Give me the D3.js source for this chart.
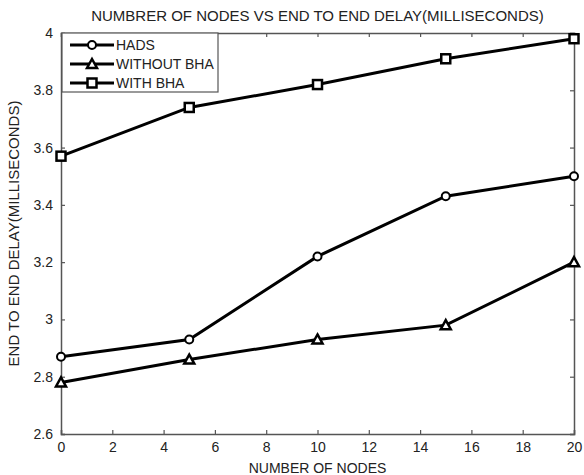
<!DOCTYPE html>
<html>
<head>
<meta charset="utf-8">
<script src="https://cdn.jsdelivr.net/npm/d3@7"></script>
<style>
body{margin:0;background:#fff;}
text{font-family:"Liberation Sans",Arial,sans-serif;fill:#222;}
</style>
</head>
<body>
<div id="body"></div>
<script>
// data
var nodes = [0, 5, 10, 15, 20];
var hads = [2.87, 2.93, 3.22, 3.43, 3.50];
var withoutBha = [2.78, 2.86, 2.93, 2.98, 3.20];
var withBha = [3.57, 3.74, 3.82, 3.91, 3.98];
var seriesNames = ["HADS", "WITHOUT BHA", "WITH BHA"];
var xTicks = [0, 2, 4, 6, 8, 10, 12, 14, 16, 18, 20];
var yTicks = [2.6, 2.8, 3, 3.2, 3.4, 3.6, 3.8, 4];

const margin = {top:33, right:10, bottom:41, left:61};
var W = 584, H = 475;
var width = W - margin.left - margin.right,
	height = H - margin.top - margin.bottom;

var svg = d3.select("#body").append("svg").attr("width", W).attr("height", H);
var g = svg.append("g").attr("transform", "translate(" + margin.left + "," + margin.top + ")");

var x = d3.scaleLinear().domain([0, 20]).range([0, width]);
var y = d3.scaleLinear().domain([2.6, 4]).range([height, 0]);

var axisColor = "#555";
// axes with inward ticks on all four sides
function styleAxis(sel){
	sel.select(".domain").attr("stroke", axisColor).attr("stroke-width", 1.5);
	sel.selectAll(".tick line").attr("stroke", axisColor).attr("stroke-width", 1.2);
	sel.selectAll("text").style("font-size", "14px").attr("fill", "#333");
}
g.append("g").attr("transform", "translate(0," + height + ")")
	.call(d3.axisBottom(x).tickValues(xTicks).tickSize(-4).tickPadding(8).tickFormat(d3.format("d")))
	.call(styleAxis);
g.append("g")
	.call(d3.axisLeft(y).tickValues(yTicks).tickSize(-4).tickPadding(8).tickFormat(function(d){return String(+d.toFixed(1));}))
	.call(styleAxis);
g.append("g")
	.call(d3.axisTop(x).tickValues(xTicks).tickSize(-4).tickFormat(""))
	.call(styleAxis);
g.append("g").attr("transform", "translate(" + width + ",0)")
	.call(d3.axisRight(y).tickValues(yTicks).tickSize(-4).tickFormat(""))
	.call(styleAxis);

var series = [
	{name: seriesNames[0], values: hads, marker: "circle"},
	{name: seriesNames[1], values: withoutBha, marker: "triangle"},
	{name: seriesNames[2], values: withBha, marker: "square"}
];

var line = d3.line().x(function(d){return x(d[0]);}).y(function(d){return y(d[1]);});

function drawMarker(sel, type, cx, cy){
	if(type == "circle"){
		sel.append("circle").attr("cx", cx).attr("cy", cy).attr("r", 4)
			.attr("fill", "#fff").attr("stroke", "#000").attr("stroke-width", 2);
	} else if(type == "square"){
		sel.append("rect").attr("x", cx - 4.5).attr("y", cy - 4.5).attr("width", 9).attr("height", 9)
			.attr("fill", "#fff").attr("stroke", "#000").attr("stroke-width", 2.5);
	} else {
		sel.append("path").attr("d", "M" + cx + "," + (cy - 5) + "L" + (cx + 5) + "," + (cy + 4) + "L" + (cx - 5) + "," + (cy + 4) + "Z")
			.attr("fill", "#fff").attr("stroke", "#000").attr("stroke-width", 2.5);
	}
}

series.forEach(function(s){
	var pts = nodes.map(function(n, i){return [n, s.values[i]];});
	g.append("path").attr("d", line(pts)).attr("fill", "none")
		.attr("stroke", "#000").attr("stroke-width", 3);
	var mg = g.append("g");
	pts.forEach(function(p){drawMarker(mg, s.marker, x(p[0]), y(p[1]));});
});

// legend
var leg = g.append("g").attr("transform", "translate(1,0)");
leg.append("rect").attr("x", 0).attr("y", 0).attr("width", 156).attr("height", 59)
	.attr("fill", "#fff").attr("stroke", axisColor).attr("stroke-width", 1.2);
series.forEach(function(s, i){
	var ly = 12 + i * 19;
	leg.append("line").attr("x1", 8).attr("x2", 52).attr("y1", ly).attr("y2", ly)
		.attr("stroke", "#000").attr("stroke-width", 3);
	drawMarker(leg, s.marker, 30, ly);
	leg.append("text").attr("x", 54).attr("y", ly + 5).style("font-size", "14px").text(s.name);
});

// titles
svg.append("text").attr("x", margin.left + width / 2).attr("y", 21).attr("text-anchor", "middle")
	.style("font-size", "15px").text("NUMBRER OF NODES VS END TO END DELAY(MILLISECONDS)");
svg.append("text").attr("x", margin.left + width / 2).attr("y", 473).attr("text-anchor", "middle")
	.style("font-size", "14px").text("NUMBER OF NODES");
svg.append("text").attr("transform", "translate(19," + (margin.top + height / 2) + ") rotate(-90)")
	.attr("text-anchor", "middle").style("font-size", "15px").text("END TO END DELAY(MILLISECONDS)");
</script>
</body>
</html>
